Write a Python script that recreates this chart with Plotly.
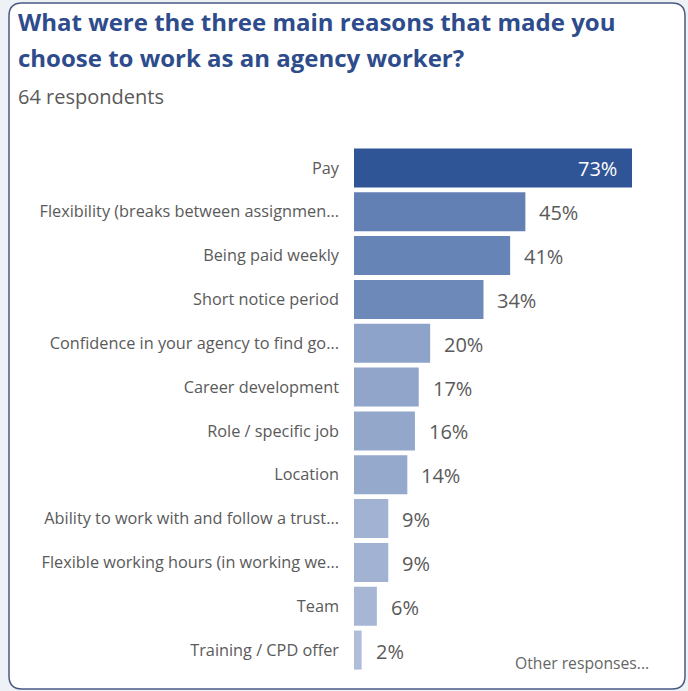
import plotly.graph_objects as go

# Survey results: share of respondents choosing each reason
reasons = [
    "Pay",
    "Flexibility (breaks between assignmen...",
    "Being paid weekly",
    "Short notice period",
    "Confidence in your agency to find go...",
    "Career development",
    "Role / specific job",
    "Location",
    "Ability to work with and follow a trust...",
    "Flexible working hours (in working we...",
    "Team",
    "Training / CPD offer",
]
percent = [73, 45, 41, 34, 20, 17, 16, 14, 9, 9, 6, 2]
bar_colors = [
    "#2f5597", "#6380b5", "#6784b7", "#6d89ba",
    "#8ea3c9", "#91a5ca", "#93a7cb", "#95a9cc",
    "#a2b2d3", "#a2b2d3", "#a7b6d5", "#afbddb",
]

title_lines = ["What were the three main reasons that made you",
               "choose to work as an agency worker?"]
subtitle = "64 respondents"
footer = "Other responses..."

W, H = 688, 691
FONT = "Open Sans, Noto Sans, sans-serif"
GREY = "#5a5a5a"


def px(x):
    return x / W


def py(y):
    return 1 - y / H


fig = go.Figure()
fig.add_trace(go.Bar(
    x=percent,
    y=reasons,
    orientation="h",
    marker=dict(color=bar_colors, line=dict(width=0)),
    hoverinfo="skip",
))

# Percentage labels: outside the bar, inside (white) for the longest bar
annotations = []
vmax = max(percent)
for r, v in zip(reasons, percent):
    inside = v == vmax
    annotations.append(dict(
        x=v, y=r, xref="x", yref="y",
        text=f"{v}%",
        showarrow=False,
        xanchor="right" if inside else "left",
        xshift=-13 if inside else 12,
        yshift=-1,
        font=dict(family=FONT, size=20, color="white" if inside else GREY),
    ))

annotations += [
    dict(x=px(16), y=py(40), xref="paper", yref="paper", text=title_lines[0],
         showarrow=False, xanchor="left", yanchor="bottom",
         font=dict(family=FONT, size=24, color="#2e4c8c", weight="bold")),
    dict(x=px(16), y=py(76), xref="paper", yref="paper", text=title_lines[1],
         showarrow=False, xanchor="left", yanchor="bottom",
         font=dict(family=FONT, size=24, color="#2e4c8c", weight="bold")),
    dict(x=px(16), y=py(112), xref="paper", yref="paper", text=subtitle,
         showarrow=False, xanchor="left", yanchor="bottom",
         font=dict(family=FONT, size=20, color=GREY)),
    dict(x=px(651), y=py(676), xref="paper", yref="paper", text=footer,
         showarrow=False, xanchor="right", yanchor="bottom",
         font=dict(family=FONT, size=15.7, color="#666666")),
]

# Rounded card outline
x0, x1, y0, y1, r = 9, 685, 3, 689, 13
rx, ry = r / W, r / H
path = (
    f"M {px(x0)+rx},{py(y0)} L {px(x1)-rx},{py(y0)} "
    f"Q {px(x1)},{py(y0)} {px(x1)},{py(y0)-ry} "
    f"L {px(x1)},{py(y1)+ry} Q {px(x1)},{py(y1)} {px(x1)-rx},{py(y1)} "
    f"L {px(x0)+rx},{py(y1)} Q {px(x0)},{py(y1)} {px(x0)},{py(y1)+ry} "
    f"L {px(x0)},{py(y0)-ry} Q {px(x0)},{py(y0)} {px(x0)+rx},{py(y0)} Z"
)

x_left, x_73 = 354, 632
scale = (x_73 - x_left) / 73.0
row_top, row_bottom = 146, 672

fig.update_layout(
    width=W, height=H,
    margin=dict(l=0, r=0, t=0, b=0),
    paper_bgcolor="#eef1f6",
    plot_bgcolor="rgba(0,0,0,0)",
    showlegend=False,
    bargap=0.11,
    shapes=[dict(type="path", path=path, xref="paper", yref="paper",
                 fillcolor="white", line=dict(color="#4a5a82", width=1.5),
                 layer="below")],
    annotations=annotations,
    xaxis=dict(domain=[px(x_left), 1], range=[0, (W - x_left) / scale],
               visible=False, fixedrange=True),
    yaxis=dict(domain=[py(row_bottom), py(row_top)], autorange="reversed",
               showgrid=False, showline=False, zeroline=False, ticks="",
               ticklabelstandoff=14,
               tickfont=dict(family=FONT, size=16.3, color=GREY)),
)

fig.write_html("out.html")
